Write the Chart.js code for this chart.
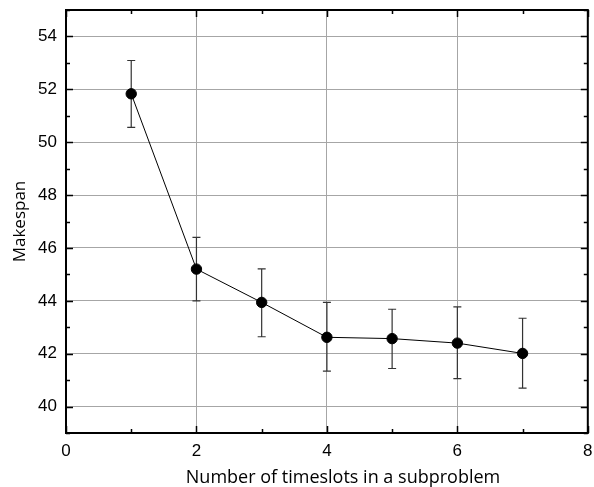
<!DOCTYPE html>
<html>
<head>
<meta charset="utf-8">
<script src="https://cdn.jsdelivr.net/npm/chart.js@4/dist/chart.umd.min.js"></script>
<style>
	html, body { margin: 0; padding: 0; background: #fff; }
	#wrap { width: 594px; height: 487px; }
</style>
</head>
<body>
<div id="wrap"><canvas id="canvas1" width="594" height="487"></canvas></div>
<script>
// values
var slots = [1, 2, 3, 4, 5, 6, 7];
var makespan = [51.83, 45.2, 43.94, 42.62, 42.57, 42.4, 42.01];
var errHigh = [53.09, 46.4, 45.21, 43.94, 43.68, 43.77, 43.34];
var errLow = [50.56, 44.0, 42.64, 41.34, 41.44, 41.06, 40.7];
var xTicks = [0, 2, 4, 6, 8];
var yTicks = [40, 42, 44, 46, 48, 50, 52, 54];
var xTitle = "Number of timeslots in a subproblem";
var yTitle = "Makespan";

var points = [];
for (var i = 0; i < slots.length; i++) {
	points.push({ x: slots[i], y: makespan[i] });
}

// vertical error bars with small caps
var errorBars = {
	id: 'errorBars',
	beforeDatasetsDraw: function(chart) {
		var ctx = chart.ctx;
		var xs = chart.scales.x, ys = chart.scales.y;
		ctx.save();
		ctx.strokeStyle = '#333';
		ctx.lineWidth = 1.2;
		for (var i = 0; i < slots.length; i++) {
			var px = xs.getPixelForValue(slots[i]);
			var top = ys.getPixelForValue(errHigh[i]);
			var bot = ys.getPixelForValue(errLow[i]);
			ctx.beginPath();
			ctx.moveTo(px, top);
			ctx.lineTo(px, bot);
			ctx.moveTo(px - 4, top);
			ctx.lineTo(px + 4, top);
			ctx.moveTo(px - 4, bot);
			ctx.lineTo(px + 4, bot);
			ctx.stroke();
		}
		ctx.restore();
	}
};

// frame box, inward ticks on all sides and the x title
var frame = {
	id: 'frame',
	afterDraw: function(chart) {
		var ctx = chart.ctx;
		var a = chart.chartArea;
		var xs = chart.scales.x, ys = chart.scales.y;
		ctx.save();
		ctx.strokeStyle = '#000';
		ctx.lineWidth = 1.5;
		ctx.beginPath();
		for (var v = xs.min; v <= xs.max; v++) {
			var px = Math.round(xs.getPixelForValue(v)) + 0.5;
			var len = (v % 2 == 0) ? 7 : 4;
			ctx.moveTo(px, a.bottom);
			ctx.lineTo(px, a.bottom - len);
			ctx.moveTo(px, a.top);
			ctx.lineTo(px, a.top + len);
		}
		for (var v = ys.min; v <= ys.max; v++) {
			var py = Math.round(ys.getPixelForValue(v)) + 0.5;
			var len = (v % 2 == 0) ? 7 : 4;
			ctx.moveTo(a.left, py);
			ctx.lineTo(a.left + len, py);
			ctx.moveTo(a.right, py);
			ctx.lineTo(a.right - len, py);
		}
		ctx.stroke();
		ctx.lineWidth = 2;
		ctx.strokeRect(a.left, a.top, a.right - a.left, a.bottom - a.top);

		ctx.fillStyle = '#000';
		ctx.font = '18px "Open Sans"';
		ctx.textAlign = 'center';
		ctx.textBaseline = 'alphabetic';
		ctx.fillText(xTitle, 343, 483);
		ctx.restore();
	}
};

var ctx = document.getElementById('canvas1');
var chart = new Chart(ctx, {
	type: 'scatter',
	data: {
		datasets: [{
			label: yTitle,
			data: points,
			showLine: true,
			borderColor: '#000',
			borderWidth: 1,
			backgroundColor: '#000',
			pointRadius: 5.2,
			pointHoverRadius: 5.2
		}]
	},
	options: {
		responsive: false,
		animation: false,
		maintainAspectRatio: false,
		layout: { padding: { left: 0, right: 5, top: 10, bottom: 0 } },
		plugins: {
			legend: { display: false },
			tooltip: { enabled: false }
		},
		scales: {
			x: {
				type: 'linear',
				min: 0,
				max: 8,
				afterBuildTicks: function(scale) {
					scale.ticks = xTicks.map(function(v) { return { value: v }; });
				},
				afterFit: function(scale) {
					scale.height = 54;
					scale.paddingLeft = 0;
					scale.paddingRight = 0;
				},
				grid: { color: '#a6a6a6', lineWidth: 1, drawTicks: false },
				border: { display: false },
				ticks: {
					padding: 8,
					color: '#000',
					font: { family: '"Liberation Sans", Arial', size: 17 },
					maxRotation: 0
				}
			},
			y: {
				type: 'linear',
				min: 39,
				max: 55,
				afterBuildTicks: function(scale) {
					scale.ticks = yTicks.map(function(v) { return { value: v }; });
				},
				afterFit: function(scale) {
					scale.width = 66;
					scale.paddingTop = 0;
					scale.paddingBottom = 0;
				},
				grid: { color: '#a6a6a6', lineWidth: 1, drawTicks: false },
				border: { display: false },
				title: {
					display: true,
					text: yTitle,
					color: '#000',
					padding: { top: 10, bottom: 0 },
					font: { family: '"Open Sans"', size: 17 }
				},
				ticks: {
					padding: 9,
					color: '#000',
					font: { family: '"Liberation Sans", Arial', size: 17 }
				}
			}
		}
	},
	plugins: [errorBars, frame]
});
</script>
</body>
</html>
